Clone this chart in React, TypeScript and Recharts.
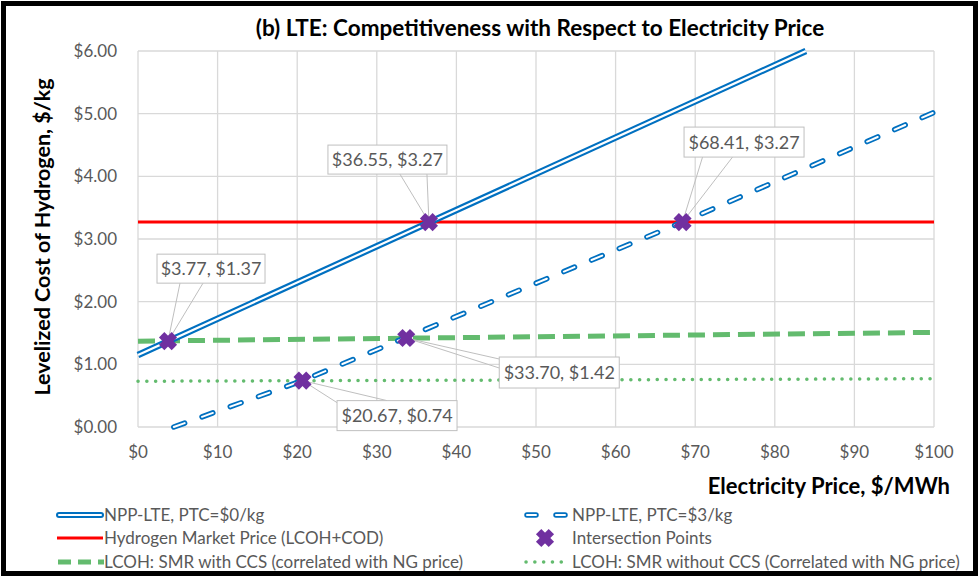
import React from "react";
import { ComposedChart, Line, Scatter, XAxis, YAxis, CartesianGrid } from "recharts";

const xTicks = [0, 10, 20, 30, 40, 50, 60, 70, 80, 90, 100];
const yTicks = [0, 1, 2, 3, 4, 5, 6];

// electricity price ($/MWh) -> LCOH ($/kg)
const nppPtc0 = [
    { price: 0, lcoh: 1.15 },
    { price: 83.9, lcoh: 6.0 },
];
const nppPtc3 = [
    { price: 4.5, lcoh: 0 },
    { price: 20.67, lcoh: 0.74 },
    { price: 68.41, lcoh: 3.27 },
    { price: 100, lcoh: 5.02 },
];
const marketPrice = [
    { price: 0, lcoh: 3.27 },
    { price: 100, lcoh: 3.27 },
];
const smrWithCcs = [
    { price: 0, lcoh: 1.37 },
    { price: 100, lcoh: 1.51 },
];
const smrWithoutCcs = [
    { price: 0, lcoh: 0.73 },
    { price: 100, lcoh: 0.77 },
];
const intersections = [
    { price: 3.77, lcoh: 1.37 },
    { price: 36.55, lcoh: 3.27 },
    { price: 68.41, lcoh: 3.27 },
    { price: 20.67, lcoh: 0.74 },
    { price: 33.7, lcoh: 1.42 },
];

// callout box placement relative to the point (px)
const calloutLayout = [
    { dx: -11, dy: -87, w: 108, h: 29, b1: [12, -58], b2: [35, -58] },
    { dx: -101, dy: -77, w: 119, h: 29, b1: [-29, -48], b2: [-2, -48] },
    { dx: 1.5, dy: -95, w: 120, h: 30, b1: [20, -65], b2: [50, -65] },
    { dx: 34.5, dy: 20, w: 120, h: 30, b1: [34.5, 22], b2: [84.5, 20] },
    { dx: 93, dy: 19, w: 120, h: 31, b1: [93, 21], b2: [93, 30] },
];

const BLUE = "#0070C0";
const RED = "#FF0000";
const GREEN = "#63BB6E";
const PURPLE = "#7030A0";
const GREY_TEXT = "#595959";
const FONT = "Lato, 'Open Sans', sans-serif";

function XMarker({ cx, cy }: { cx: number; cy: number }) {
    return (
        <g>
            <rect x={cx - 9} y={cy - 3.8} width={18} height={7.6} fill={PURPLE} transform={`rotate(45 ${cx} ${cy})`} />
            <rect x={cx - 9} y={cy - 3.8} width={18} height={7.6} fill={PURPLE} transform={`rotate(-45 ${cx} ${cy})`} />
        </g>
    );
}

function Callout(props: any) {
    const { cx, cy, payload } = props;
    const i = intersections.findIndex((p) => p.price === payload.price && p.lcoh === payload.lcoh);
    const l = calloutLayout[i];
    const label = `$${payload.price.toFixed(2)}, $${payload.lcoh.toFixed(2)}`;
    return (
        <g>
            <line x1={cx} y1={cy} x2={cx + l.b1[0]} y2={cy + l.b1[1]} stroke="#BFBFBF" strokeWidth={1} />
            <line x1={cx} y1={cy} x2={cx + l.b2[0]} y2={cy + l.b2[1]} stroke="#BFBFBF" strokeWidth={1} />
            <rect x={cx + l.dx} y={cy + l.dy} width={l.w} height={l.h} fill="#fff" stroke="#BFBFBF" strokeWidth={1} />
            <text
                x={cx + l.dx + l.w / 2}
                y={cy + l.dy + l.h / 2}
                dy="0.36em"
                textAnchor="middle"
                fontSize={18}
                fill={GREY_TEXT}
                fontFamily={FONT}
            >
                {label}
            </text>
            <XMarker cx={cx} cy={cy} />
        </g>
    );
}

function YTick({ x, y, payload }: any) {
    return (
        <text x={x - 13} y={y} dy="0.36em" textAnchor="end" fontSize={17} fill={GREY_TEXT} fontFamily={FONT}>
            {`$${Number(payload.value).toFixed(2)}`}
        </text>
    );
}

function XTick({ x, y, payload }: any) {
    return (
        <text x={x} y={y + 23} textAnchor="middle" fontSize={17} fill={GREY_TEXT} fontFamily={FONT}>
            {`$${payload.value}`}
        </text>
    );
}

function Overlay() {
    const legendText = { fontSize: 17, fill: GREY_TEXT, fontFamily: FONT } as const;
    return (
        <svg width={979} height={577} style={{ position: "absolute", left: 0, top: 0, pointerEvents: "none" }}>
            <rect x={3.5} y={3.5} width={972} height={570} fill="none" stroke="#000" strokeWidth={5} />
            <text x={540} y={36} textAnchor="middle" fontSize={22.5} fontWeight="bold" fill="#000" fontFamily={FONT}>
                (b) LTE: Competitiveness with Respect to Electricity Price
            </text>
            <text
                x={42}
                y={237}
                textAnchor="middle"
                dy="0.36em"
                fontSize={21.5}
                fontWeight="bold"
                fill="#000"
                fontFamily={FONT}
                transform="rotate(-90 42 237)"
            >
                Levelized Cost of Hydrogen, $/kg
            </text>
            <text x={950} y={494} textAnchor="end" fontSize={22} fontWeight="bold" fill="#000" fontFamily={FONT}>
                Electricity Price, $/MWh
            </text>

            {/* legend col 1 */}
            <line x1={59} y1={515} x2={101} y2={515} stroke={BLUE} strokeWidth={6} strokeLinecap="round" />
            <line x1={59} y1={515} x2={101} y2={515} stroke="#fff" strokeWidth={2} strokeLinecap="round" />
            <text x={104} y={515} dy="0.36em" {...legendText}>NPP-LTE, PTC=$0/kg</text>
            <line x1={57} y1={538} x2={103} y2={538} stroke={RED} strokeWidth={3} />
            <text x={104} y={538} dy="0.36em" {...legendText}>Hydrogen Market Price (LCOH+COD)</text>
            <line x1={58} y1={562} x2={104} y2={562} stroke={GREEN} strokeWidth={5} strokeDasharray="13 7" />
            <text x={104} y={562} dy="0.36em" {...legendText}>LCOH: SMR with CCS (correlated with NG price)</text>

            {/* legend col 2 */}
            <line x1={527} y1={515} x2={566} y2={515} stroke={BLUE} strokeWidth={5.5} strokeLinecap="round" strokeDasharray="9 20" />
            <line x1={527} y1={515} x2={566} y2={515} stroke="#fff" strokeWidth={2} strokeLinecap="round" strokeDasharray="9 20" />
            <text x={572} y={515} dy="0.36em" {...legendText}>NPP-LTE, PTC=$3/kg</text>
            <XMarker cx={545} cy={538} />
            <text x={572} y={538} dy="0.36em" {...legendText}>Intersection Points</text>
            <line x1={526} y1={562} x2={568} y2={562} stroke={GREEN} strokeWidth={3.5} strokeLinecap="round" strokeDasharray="0.1 8.7" />
            <text x={572} y={562} dy="0.36em" {...legendText}>LCOH: SMR without CCS (Correlated with NG price)</text>
        </svg>
    );
}

export default function App() {
    return (
        <div style={{ position: "absolute", left: 0, top: 0, width: 979, height: 577, background: "#fff", fontFamily: FONT }}>
            <ComposedChart width={979} height={577} margin={{ top: 51, right: 45, left: 0, bottom: 120 }}>
                <CartesianGrid stroke="#D9D9D9" strokeWidth={1.3} />
                <XAxis
                    dataKey="price"
                    type="number"
                    domain={[0, 100]}
                    ticks={xTicks}
                    tick={<XTick />}
                    axisLine={false}
                    tickLine={false}
                    height={30}
                />
                <YAxis
                    dataKey="lcoh"
                    type="number"
                    domain={[0, 6]}
                    ticks={yTicks}
                    tick={<YTick />}
                    axisLine={false}
                    tickLine={false}
                    width={138}
                />
                <Line data={smrWithoutCcs} dataKey="lcoh" stroke={GREEN} strokeWidth={3.5} strokeLinecap="round" strokeDasharray="0.1 8.7" dot={false} activeDot={false} isAnimationActive={false} />
                <Line data={smrWithCcs} dataKey="lcoh" stroke={GREEN} strokeWidth={5} strokeDasharray="17 8" dot={false} activeDot={false} isAnimationActive={false} />
                <Line data={marketPrice} dataKey="lcoh" stroke={RED} strokeWidth={3} dot={false} activeDot={false} isAnimationActive={false} />
                <Line data={nppPtc3} dataKey="lcoh" stroke={BLUE} strokeWidth={5.5} strokeLinecap="round" strokeDasharray="11.5 18.5" dot={false} activeDot={false} isAnimationActive={false} />
                <Line data={nppPtc3} dataKey="lcoh" stroke="#fff" strokeWidth={2} strokeLinecap="round" strokeDasharray="11.5 18.5" dot={false} activeDot={false} isAnimationActive={false} />
                <Line data={nppPtc0} dataKey="lcoh" stroke={BLUE} strokeWidth={6.5} dot={false} activeDot={false} isAnimationActive={false} />
                <Line data={nppPtc0} dataKey="lcoh" stroke="#fff" strokeWidth={2.2} dot={false} activeDot={false} isAnimationActive={false} />
                <Scatter data={intersections} dataKey="lcoh" shape={(p: any) => <Callout {...p} />} isAnimationActive={false} />
            </ComposedChart>
            <Overlay />
        </div>
    );
}
